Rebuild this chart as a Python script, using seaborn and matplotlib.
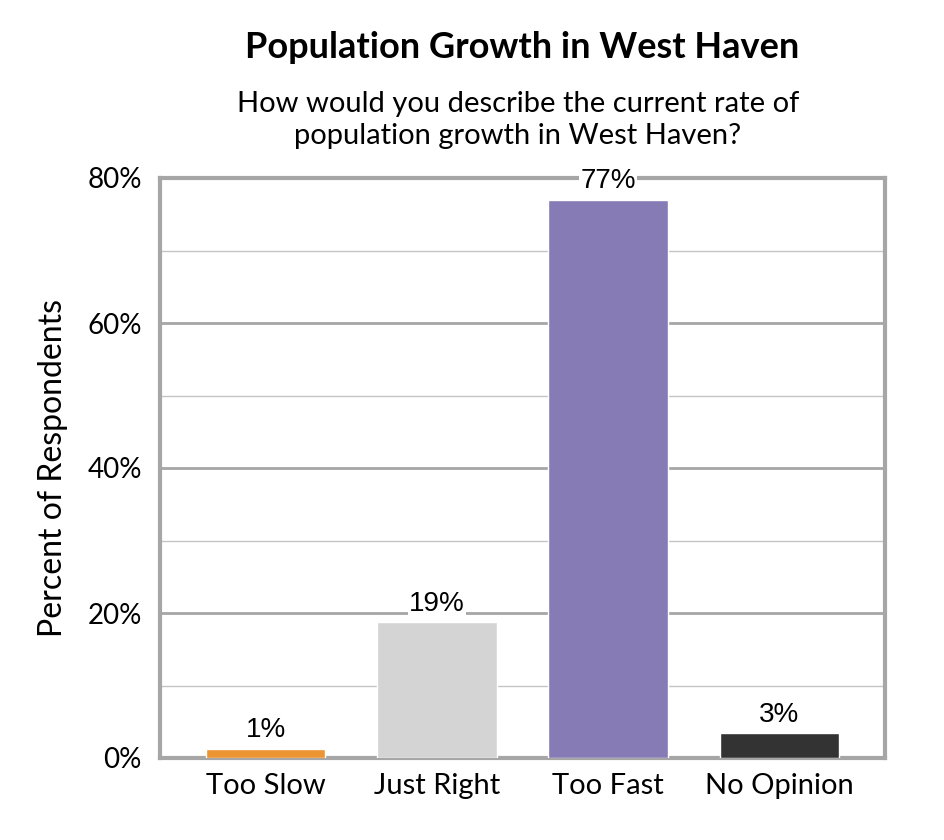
import numpy as np
import pandas as pd
import seaborn as sns
import matplotlib.pyplot as plt
from matplotlib.ticker import MultipleLocator, FuncFormatter

# survey answers
categories = ['Too Slow', 'Just Right', 'Too Fast', 'No Opinion']
percents = [1.3, 18.7, 77.0, 3.4]
bar_colors = ['#EC9332', '#D4D4D4', '#877BB6', '#333333']

df = pd.DataFrame({'answer': categories, 'pct': percents})

sns.set_style('white')
plt.rcParams['font.family'] = ['Lato', 'DejaVu Sans']
plt.rcParams['text.color'] = 'black'
plt.rcParams['axes.labelcolor'] = 'black'
plt.rcParams['xtick.color'] = 'black'
plt.rcParams['ytick.color'] = 'black'

fig = plt.figure(figsize=(9.45, 8.4), dpi=100)
ax = fig.add_axes([160 / 945, 82 / 840, 725 / 945, 580 / 840])

sns.barplot(data=df, x='answer', y='pct', hue='answer', palette=bar_colors,
            width=0.7, saturation=1, legend=False, ax=ax, zorder=3)

ax.set_xlim(-0.616, 3.616)
ax.set_ylim(0, 80)
ax.yaxis.set_major_locator(MultipleLocator(20))
ax.yaxis.set_minor_locator(MultipleLocator(10))
ax.yaxis.set_major_formatter(FuncFormatter(lambda v, p: f'{v:.0f}%'))
ax.grid(axis='y', which='major', color='#a6a6a6', linewidth=2, zorder=0)
ax.grid(axis='y', which='minor', color='#c4c4c4', linewidth=1, zorder=0)
ax.set_axisbelow(True)
for s in ax.spines.values():
    s.set_visible(True)
    s.set_color('#a6a6a6')
    s.set_linewidth(3)

ax.tick_params(axis='y', which='both', length=0, pad=13, labelsize=20)
ax.tick_params(axis='x', length=0, pad=11, labelsize=21)
ax.set_xlabel('')
ax.set_ylabel('Percent of Respondents', fontsize=23)
ax.yaxis.set_label_coords(-0.127, 0.5)

for cont in ax.containers:
    labels = ax.bar_label(cont, fmt='%.0f%%', padding=4, fontsize=20,
                          family='Liberation Sans', zorder=5)
    for t in labels:
        t.set_bbox(dict(facecolor='white', edgecolor='none', pad=1))
        t.set_clip_on(False)

fig.text(0.553, 0.943, 'Population Growth in West Haven', ha='center',
         va='center', fontsize=26, fontweight='bold')
fig.text(0.548, 0.857, 'How would you describe the current rate of\npopulation growth in West Haven?',
         ha='center', va='center', fontsize=21, linespacing=1.25)

fig.savefig('out.png', dpi=100)
